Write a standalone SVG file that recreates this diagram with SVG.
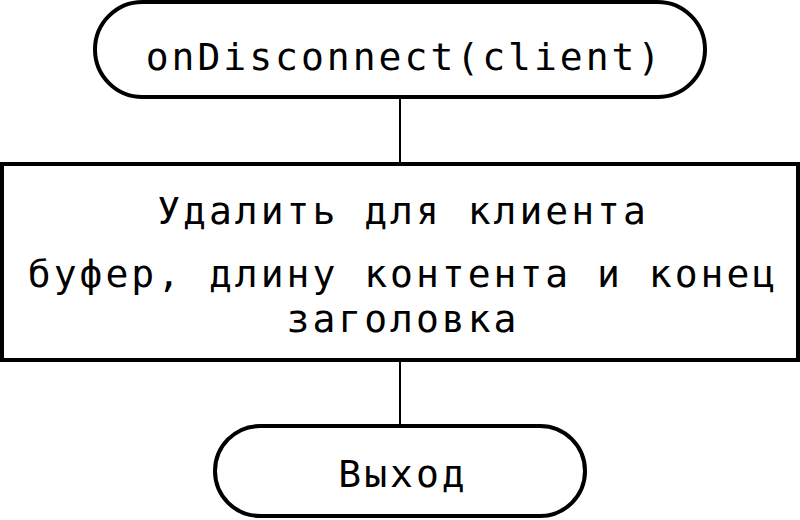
<svg xmlns="http://www.w3.org/2000/svg" width="800" height="520" viewBox="0 0 800 520">
<style>
.n{fill:#fff;stroke:#000;stroke-width:4}
.c{stroke:#000;stroke-width:2;fill:none}
text{font-family:"DejaVu Sans Mono","Liberation Mono",monospace;font-size:38px;letter-spacing:3px;text-anchor:middle;fill:#000}
</style>
<rect width="800" height="520" fill="#fff"/>
<g id="connectors">
<line class="c" x1="400" y1="97" x2="400" y2="164"/>
<line class="c" x1="400" y1="360" x2="400" y2="426"/>
</g>
<g id="start">
<rect class="n" x="95" y="2" width="610" height="95" rx="47.5" ry="47.5"/>
<text x="404.5" y="70">onDisconnect(client)</text>
</g>
<g id="process">
<rect class="n" x="2" y="164" width="796" height="196"/>
<text x="403" y="224">Удалить для клиента</text>
<text x="403" y="287">буфер, длину контента и конец</text>
<text x="403" y="332">заголовка</text>
</g>
<g id="end">
<rect class="n" x="215" y="426" width="370" height="90" rx="45" ry="45"/>
<text x="403" y="487">Выход</text>
</g>
</svg>
